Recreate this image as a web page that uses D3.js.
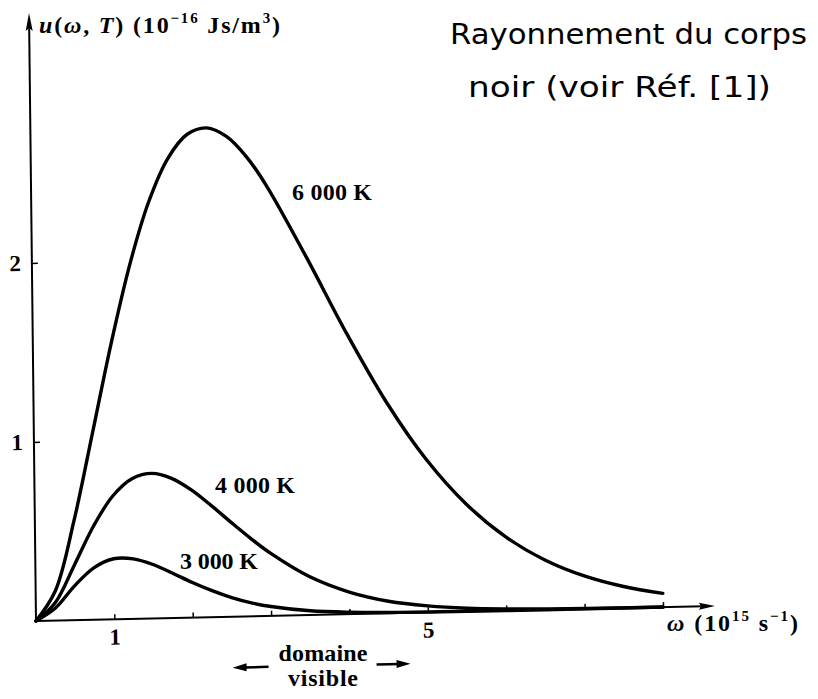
<!DOCTYPE html>
<html><head><meta charset="utf-8">
<script src="https://cdn.jsdelivr.net/npm/d3@7"></script>
<style>body{margin:0;background:#fff} svg{display:block}</style>
</head><body>
<script>
// omega in 10^15 s^-1, u in 10^-16 Js/m^3
const omega = [0,0.25,0.5,0.75,1,1.25,1.5,1.75,2,2.25,2.5,2.75,3,3.5,4,4.5,5,5.5,6,6.5,7,7.5,8];
const u6000 = [0,0.165,0.557,1.047,1.543,1.982,2.329,2.568,2.700,2.733,2.683,2.568,2.405,2.000,1.571,1.180,0.855,0.602,0.413,0.278,0.184,0.120,0.077];
const u4000 = [0,0.101,0.310,0.525,0.690,0.784,0.810,0.780,0.713,0.624,0.528,0.435,0.350,0.213,0.123,0.067,0.036,0.018,0.009,0.004,0.002,0.001,0.001];
const u3000 = [0,0.070,0.193,0.291,0.338,0.335,0.301,0.250,0.196,0.148,0.107,0.075,0.052,0.023,0.010,0.004,0.002,0.001,0,0,0,0,0];
const seriesNames = ["6 000 K","4 000 K","3 000 K"];
const xTicks = [1,2,3,4,5,6,7,8];
const xTickLabels = {1:"1",5:"5"};
const yTicks = [1,2];
const yTickLabels = {1:"1",2:"2"};

const W = 818, H = 699;
const svg = d3.select("body").append("svg").attr("width", W).attr("height", H);
const serif = "'Liberation Serif','Times New Roman',serif";

// scanned page is slightly skewed: axes drawn in a sheared frame
const g = svg.append("g")
  .attr("transform", "translate(36,621) matrix(1,-0.0221,0.0115,1,0,0)");

const x = d3.scaleLinear().domain([0, 8]).range([0, 627]);
const y = d3.scaleLinear().domain([0, 2]).range([0, -358]);

// x axis
const xAxis = d3.axisBottom(x).tickValues(xTicks)
  .tickSize(-5).tickPadding(9)
  .tickFormat(d => xTickLabels[d] || "");
const gx = g.append("g").call(xAxis);
gx.select(".domain").remove();
gx.selectAll(".tick line").attr("stroke", "#000").attr("stroke-width", 1.5);
gx.selectAll("text").attr("font-family", serif).attr("font-size", 23)
  .attr("font-weight", "bold").attr("fill", "#000");
g.append("line").attr("x1", 0).attr("y1", 0).attr("x2", 668).attr("y2", 0)
  .attr("stroke", "#000").attr("stroke-width", 2);
g.append("path").attr("d", "M679,0 L663,-3.5 L665,0 L663,3.5 Z").attr("fill", "#000");

// y axis
const yAxis = d3.axisLeft(y).tickValues(yTicks)
  .tickSize(-6).tickPadding(11)
  .tickFormat(d => yTickLabels[d] || "");
const gy = g.append("g").call(yAxis);
gy.select(".domain").remove();
gy.selectAll(".tick line").attr("stroke", "#000").attr("stroke-width", 1.5);
gy.selectAll("text").attr("font-family", serif).attr("font-size", 23)
  .attr("font-weight", "bold").attr("fill", "#000");
g.append("line").attr("x1", 0).attr("y1", 0).attr("x2", 0).attr("y2", -595)
  .attr("stroke", "#000").attr("stroke-width", 2);
g.append("path").attr("d", "M0,-608 L-3.5,-590 L0,-593 L3.5,-590 Z").attr("fill", "#000");

// curves
const line = d3.line().x((d, i) => x(omega[i])).y(d => y(d)).curve(d3.curveCatmullRom.alpha(0.5));
[u6000, u4000, u3000].forEach(s => {
  g.append("path").attr("d", line(s)).attr("fill", "none")
    .attr("stroke", "#000").attr("stroke-width", 3.4).attr("stroke-linecap", "round");
});

// domaine visible arrows
g.append("line").attr("x1", 206).attr("y1", 51).attr("x2", 232).attr("y2", 51).attr("stroke", "#000").attr("stroke-width", 2.5);
g.append("path").attr("d", "M196,51 L210,47 L210,55 Z").attr("fill", "#000");
g.append("line").attr("x1", 340).attr("y1", 51).attr("x2", 364).attr("y2", 51).attr("stroke", "#000").attr("stroke-width", 2.5);
g.append("path").attr("d", "M374,51 L360,47 L360,55 Z").attr("fill", "#000");

// texts (absolute positions)
function txt(xp, yp, s, size, opts = {}) {
  const t = svg.append("text").attr("x", xp).attr("y", yp).text(s)
    .attr("font-family", opts.family || serif).attr("font-size", size)
    .attr("font-weight", opts.weight || "bold").attr("fill", "#000")
    .attr("text-anchor", opts.anchor || "start");
  if (opts.len) t.attr("textLength", opts.len).attr("lengthAdjust", "spacing");
  return t;
}
txt(292, 200, seriesNames[0], 24, {len: 80});
txt(215, 493, seriesNames[1], 24, {len: 80});
txt(180, 569, seriesNames[2], 24, {len: 78});
txt(323, 661, "domaine", 24, {anchor: "middle", len: 89});
txt(323, 686, "visible", 24, {anchor: "middle", len: 70});

// y axis title
const yt = svg.append("text").attr("x", 39).attr("y", 33)
  .attr("font-family", serif).attr("font-size", 24).attr("font-weight", "bold").attr("fill", "#000")
  .attr("textLength", 241).attr("lengthAdjust", "spacing");
yt.append("tspan").attr("font-style", "italic").text("u");
yt.append("tspan").text("(");
yt.append("tspan").attr("font-style", "italic").text("ω");
yt.append("tspan").text(", ");
yt.append("tspan").attr("font-style", "italic").text("T");
yt.append("tspan").text(") (10");
yt.append("tspan").attr("font-size", 15).attr("dy", -10).text("−16");
yt.append("tspan").attr("dy", 10).text(" Js/m");
yt.append("tspan").attr("font-size", 15).attr("dy", -10).text("3");
yt.append("tspan").attr("dy", 10).text(")");

// x axis title
const xt = svg.append("text").attr("x", 667).attr("y", 631)
  .attr("font-family", serif).attr("font-size", 24).attr("font-weight", "bold").attr("fill", "#000")
  .attr("textLength", 131).attr("lengthAdjust", "spacing");
xt.append("tspan").attr("font-style", "italic").text("ω");
xt.append("tspan").text("  (10");
xt.append("tspan").attr("font-size", 15).attr("dy", -10).text("15");
xt.append("tspan").attr("dy", 10).text(" s");
xt.append("tspan").attr("font-size", 15).attr("dy", -10).text("−1");
xt.append("tspan").attr("dy", 10).text(")");

// handwritten note
const hand = "'DejaVu Sans', sans-serif";
svg.append("text").attr("x", 450).attr("y", 44).text("Rayonnement du corps")
  .attr("font-family", hand).attr("font-size", 29).attr("font-weight", 400)
  .attr("textLength", 357).attr("lengthAdjust", "spacingAndGlyphs").attr("fill", "#000");
svg.append("text").attr("x", 468).attr("y", 97).text("noir (voir Réf. [1])")
  .attr("font-family", hand).attr("font-size", 29).attr("font-weight", 400)
  .attr("textLength", 303).attr("lengthAdjust", "spacingAndGlyphs").attr("fill", "#000");
</script>
</body></html>
